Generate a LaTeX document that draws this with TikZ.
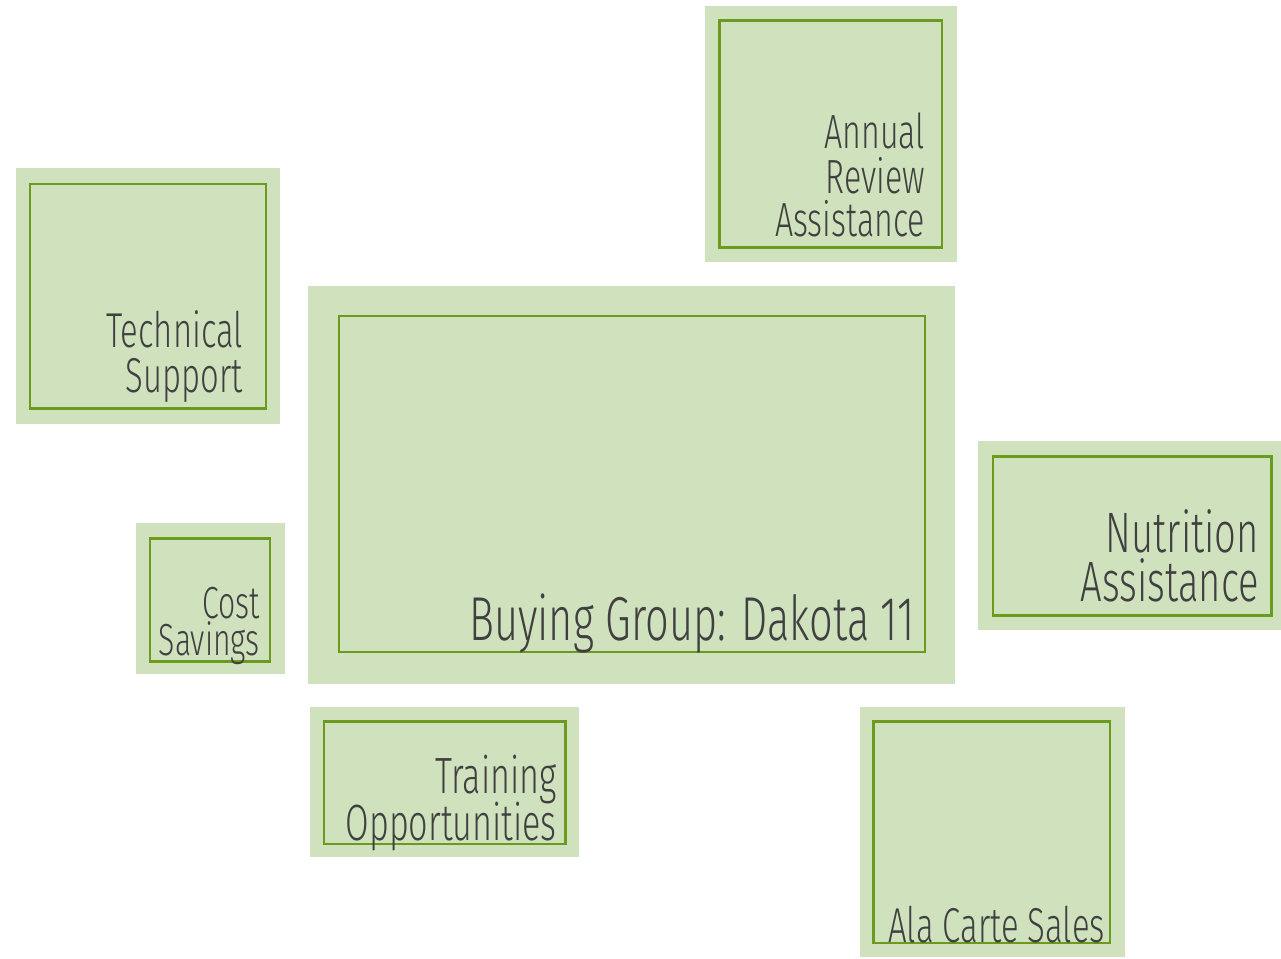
\documentclass[tikz,border=0pt]{standalone}
\usepackage{fontspec}
\setmainfont{Fira Sans}[UprightFont=* Light, FakeStretch=0.67]
\definecolor{boxfill}{HTML}{CFE2BD}
\definecolor{boxline}{HTML}{6B9B1E}
\definecolor{txt}{HTML}{404040}
\tikzset{
  outerbox/.style={fill=boxfill, draw=none},
  innerbox/.style={draw=boxline, line width=2.3pt},
  lbl/.style={anchor=base east, inner sep=0pt, text=txt},
}
\newcommand{\fs}[1]{\fontsize{#1}{#1}\selectfont}
\begin{document}
\begin{tikzpicture}[x=1pt,y=-1pt]
\useasboundingbox (0,0) rectangle (1281,958);
% Annual Review Assistance
\fill[outerbox] (705,6) rectangle (957,262);
\draw[innerbox] (719.5,20.5) rectangle (942,247.5);
\node[lbl,font=\fs{48}] (ar1) at (925,148) {Annual};
\node[lbl,font=\fs{48}] (ar2) at (925,193) {Review};
\node[lbl,font=\fs{48}] (ar3) at (925,236) {Assistance};
% Technical Support
\fill[outerbox] (16,168) rectangle (280,424);
\draw[innerbox] (30,184) rectangle (266,408.5);
\node[lbl,font=\fs{49}] (ts1) at (243,347) {Technical};
\node[lbl,font=\fs{49}] (ts2) at (243,392) {Support};
% Main
\fill[outerbox] (308,286) rectangle (955,684);
\draw[innerbox] (339,316) rectangle (925,652);
\node[lbl,font=\fs{62}] (main) at (915,640) {Buying Group: Dakota 11};
% Cost Savings
\fill[outerbox] (136,523) rectangle (285,674);
\draw[innerbox] (150,538.5) rectangle (270,661.5);
\node[lbl,font=\fs{45}] (cs1) at (260,618) {Cost};
\node[lbl,font=\fs{45}] (cs2) at (260,655) {Savings};
% Nutrition Assistance
\fill[outerbox] (978,441) rectangle (1281,630);
\draw[innerbox] (993,456.5) rectangle (1271.5,615.5);
\node[lbl,font=\fs{57}] (na1) at (1259,552) {Nutrition};
\node[lbl,font=\fs{57}] (na2) at (1259,601) {Assistance};
% Training Opportunities
\fill[outerbox] (310,707) rectangle (579,857);
\draw[innerbox] (324,721.5) rectangle (565.5,844);
\node[lbl,font=\fs{51}] (to1) at (557,793) {Training};
\node[lbl,font=\fs{51}] (to2) at (557,840) {Opportunities};
% Ala Carte Sales
\fill[outerbox] (860,707) rectangle (1125,957);
\draw[innerbox] (873.5,721.5) rectangle (1110,943);
\node[lbl,font=\fs{49}] (acs) at (1105,942) {Ala Carte Sales};
\end{tikzpicture}
\end{document}
